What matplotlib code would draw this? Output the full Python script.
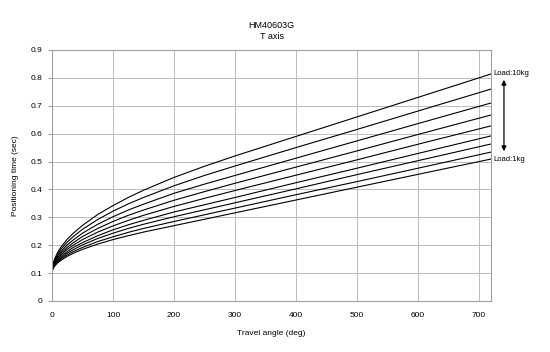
import matplotlib
matplotlib.use("Agg")
import matplotlib.pyplot as plt

plt.rcParams["font.family"] = ["Liberation Sans", "DejaVu Sans"]

angle = [0, 1, 3, 6, 10, 15, 25, 35, 50, 75, 100, 125, 150, 200, 250, 300, 400, 500, 600, 720]

# positioning time (sec), one list per load curve, lightest (1kg) first
load_curves = [
    [0.100, 0.112, 0.121, 0.129, 0.138, 0.146, 0.160, 0.171, 0.185, 0.204, 0.220, 0.234, 0.247, 0.270, 0.293, 0.316, 0.362, 0.408, 0.454, 0.509],
    [0.100, 0.113, 0.123, 0.132, 0.141, 0.151, 0.165, 0.177, 0.192, 0.213, 0.230, 0.246, 0.260, 0.285, 0.309, 0.333, 0.381, 0.428, 0.476, 0.534],
    [0.100, 0.114, 0.125, 0.135, 0.145, 0.155, 0.171, 0.184, 0.201, 0.224, 0.243, 0.260, 0.275, 0.302, 0.327, 0.352, 0.402, 0.453, 0.503, 0.563],
    [0.100, 0.115, 0.127, 0.138, 0.149, 0.160, 0.177, 0.192, 0.209, 0.234, 0.255, 0.273, 0.289, 0.319, 0.345, 0.371, 0.424, 0.476, 0.529, 0.592],
    [0.100, 0.117, 0.129, 0.141, 0.154, 0.166, 0.185, 0.200, 0.220, 0.247, 0.269, 0.289, 0.307, 0.339, 0.368, 0.396, 0.451, 0.506, 0.562, 0.628],
    [0.100, 0.118, 0.132, 0.145, 0.158, 0.172, 0.192, 0.209, 0.231, 0.260, 0.285, 0.307, 0.326, 0.361, 0.392, 0.422, 0.480, 0.538, 0.597, 0.667],
    [0.100, 0.120, 0.135, 0.149, 0.164, 0.178, 0.201, 0.219, 0.243, 0.275, 0.302, 0.326, 0.347, 0.386, 0.419, 0.450, 0.512, 0.574, 0.636, 0.710],
    [0.100, 0.122, 0.138, 0.154, 0.170, 0.186, 0.211, 0.231, 0.257, 0.292, 0.322, 0.348, 0.371, 0.413, 0.450, 0.484, 0.550, 0.615, 0.681, 0.760],
    [0.100, 0.124, 0.142, 0.159, 0.177, 0.194, 0.221, 0.243, 0.271, 0.310, 0.342, 0.371, 0.397, 0.443, 0.483, 0.520, 0.590, 0.660, 0.730, 0.814],
]

x_ticks = [0, 100, 200, 300, 400, 500, 600, 700]
y_ticks = [0, 0.1, 0.2, 0.3, 0.4, 0.5, 0.6, 0.7, 0.8, 0.9]
y_tick_labels = ["0", "0.1", "0.2", "0.3", "0.4", "0.5", "0.6", "0.7", "0.8", "0.9"]

fig = plt.figure(figsize=(5.5, 3.52), dpi=100)
ax = fig.add_axes([0.0945, 0.145, 0.7985, 0.713])

for times in load_curves:
    ax.plot(angle, times, color="black", lw=0.8)

ax.set_xlim(0, 720)
ax.set_ylim(0, 0.9)
ax.set_xticks(x_ticks)
ax.set_yticks(y_ticks)
ax.set_yticklabels(y_tick_labels)
ax.grid(True, color="#bcbcbc", lw=0.7)
ax.set_axisbelow(True)
for sp in ax.spines.values():
    sp.set_color("#a0a0a0")
    sp.set_linewidth(0.8)
ax.tick_params(axis="y", length=3, width=0.8, color="#a0a0a0", labelsize=6, pad=4)
ax.tick_params(axis="x", length=0, labelsize=6, pad=8)

ax.set_xlabel("Travel angle (deg)", fontsize=6, labelpad=8)
ax.set_ylabel("Positioning time (sec)", fontsize=6, labelpad=8)
ax.set_title("HM40603G\nT axis", fontsize=6.5, pad=8, linespacing=1.3)

# load labels and arrow on the right side
ax.text(723, 0.814, "Load:10kg", fontsize=5.5, va="center", ha="left", clip_on=False)
ax.text(723, 0.509, "Load:1kg", fontsize=5.5, va="center", ha="left", clip_on=False)
ax.annotate("", xy=(741, 0.537), xytext=(741, 0.793),
            arrowprops=dict(arrowstyle="<|-|>", color="black", lw=0.9,
                            mutation_scale=7, shrinkA=0, shrinkB=0),
            annotation_clip=False)

fig.savefig("out.png", dpi=100)
